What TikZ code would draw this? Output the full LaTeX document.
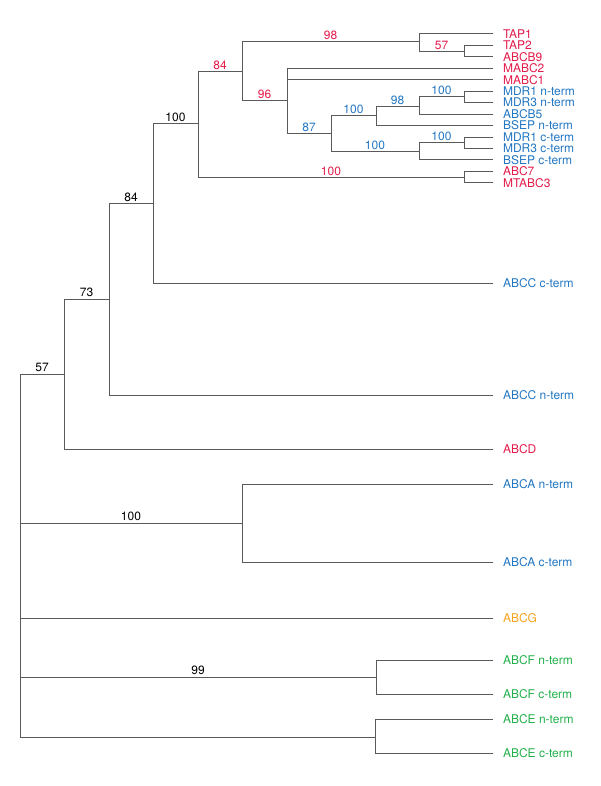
\documentclass[tikz,border=0pt]{standalone}
\usepackage{fontspec}
\setmainfont{TeX Gyre Heros}
\usetikzlibrary{positioning}

\definecolor{linegray}{HTML}{5A5A5A}
\definecolor{cladered}{HTML}{E31B4B}
\definecolor{cladeblue}{HTML}{2277C2}
\definecolor{cladeorange}{HTML}{F6A31C}
\definecolor{cladegreen}{HTML}{22B04B}

\tikzset{
  branch/.style={draw=linegray, line width=1pt},
  leaf/.style={anchor=west, inner xsep=10pt, inner ysep=0pt, outer sep=0pt,
    font=\fontsize{12}{13}\selectfont},
  boot/.style={above, pos=0.75, inner sep=1.5pt, font=\fontsize{12}{13}\selectfont},
}

\begin{document}
\begin{tikzpicture}[x=1pt, y=-1pt]
\useasboundingbox (0,0) rectangle (600,786);

% leaves of the ABCB clade
\foreach \nm/\txt/\col [count=\i from 0] in {tap1/TAP1/cladered, tap2/TAP2/cladered,
    abcb9/ABCB9/cladered, mabc2/MABC2/cladered, mabc1/MABC1/cladered,
    mdr1n/MDR1 n-term/cladeblue, mdr3n/MDR3 n-term/cladeblue, abcb5/ABCB5/cladeblue,
    bsepn/BSEP n-term/cladeblue, mdr1c/MDR1 c-term/cladeblue, mdr3c/MDR3 c-term/cladeblue,
    bsepc/BSEP c-term/cladeblue, abc7/ABC7/cladered, mtabc3/MTABC3/cladered}
  \node[leaf, text=\col] (\nm) at (493,{34+11.45*\i}) {\txt};

% other leaves
\node[leaf, text=cladeblue] (abccc) at (493,283) {ABCC c-term};
\node[leaf, text=cladeblue] (abccn) at (493,395) {ABCC n-term};
\node[leaf, text=cladered] (abcd) at (493,449) {ABCD};
\node[leaf, text=cladeblue] (abcan) at (493,484) {ABCA n-term};
\node[leaf, text=cladeblue] (abcac) at (493,562) {ABCA c-term};
\node[leaf, text=cladeorange] (abcg) at (493,618) {ABCG};
\node[leaf, text=cladegreen] (abcfn) at (493,660) {ABCF n-term};
\node[leaf, text=cladegreen] (abcfc) at (493,694) {ABCF c-term};
\node[leaf, text=cladegreen] (abcen) at (493,719) {ABCE n-term};
\node[leaf, text=cladegreen] (abcec) at (493,753) {ABCE c-term};

% internal nodes
\coordinate (root) at (20,556);
\coordinate (n57) at (64,374);
\coordinate (n73) at (109,299);
\coordinate (n84) at (153,204);
\coordinate (n100) at (198,124);
\coordinate (r84) at (242,72);
\coordinate (r98) at (419,42);
\coordinate (r57) at (464,51.5);
\coordinate (r96) at (287,101);
\coordinate (b87) at (331,134);
\coordinate (b100a) at (376,116);
\coordinate (b98) at (419,107);
\coordinate (b100b) at (464,97);
\coordinate (b100c) at (419,152);
\coordinate (b100d) at (464,143);
\coordinate (r100) at (464,177.5);
\coordinate (k100) at (242,523);
\coordinate (k99) at (376,677);
\coordinate (kE) at (375,737);

% branches
\draw[branch] (root) |- node[boot] {57} (n57);
\draw[branch] (root) |- node[boot] {100} (k100);
\draw[branch] (root) |- (abcg.west);
\draw[branch] (root) |- node[boot] {99} (k99);
\draw[branch] (root) |- (kE);
\draw[branch] (n57) |- node[boot] {73} (n73);
\draw[branch] (n57) |- (abcd.west);
\draw[branch] (n73) |- node[boot] {84} (n84);
\draw[branch] (n73) |- (abccn.west);
\draw[branch] (n84) |- node[boot] {100} (n100);
\draw[branch] (n84) |- (abccc.west);
\draw[branch] (n100) |- node[boot, text=cladered] {84} (r84);
\draw[branch] (n100) |- node[boot, text=cladered] {100} (r100);
\draw[branch] (r84) |- node[boot, text=cladered] {98} (r98);
\draw[branch] (r84) |- node[boot, text=cladered] {96} (r96);
\draw[branch] (r98) |- (tap1.west);
\draw[branch] (r98) |- node[boot, text=cladered] {57} (r57);
\draw[branch] (r57) |- (tap2.west);
\draw[branch] (r57) |- (abcb9.west);
\draw[branch] (r96) |- (mabc2.west);
\draw[branch] (r96) |- (mabc1.west);
\draw[branch] (r96) |- node[boot, text=cladeblue] {87} (b87);
\draw[branch] (b87) |- node[boot, text=cladeblue] {100} (b100a);
\draw[branch] (b87) |- node[boot, text=cladeblue] {100} (b100c);
\draw[branch] (b100a) |- node[boot, text=cladeblue] {98} (b98);
\draw[branch] (b100a) |- (bsepn.west);
\draw[branch] (b98) |- node[boot, text=cladeblue] {100} (b100b);
\draw[branch] (b98) |- (abcb5.west);
\draw[branch] (b100b) |- (mdr1n.west);
\draw[branch] (b100b) |- (mdr3n.west);
\draw[branch] (b100c) |- node[boot, text=cladeblue] {100} (b100d);
\draw[branch] (b100c) |- (bsepc.west);
\draw[branch] (b100d) |- (mdr1c.west);
\draw[branch] (b100d) |- (mdr3c.west);
\draw[branch] (r100) |- (abc7.west);
\draw[branch] (r100) |- (mtabc3.west);
\draw[branch] (k100) |- (abcan.west);
\draw[branch] (k100) |- (abcac.west);
\draw[branch] (k99) |- (abcfn.west);
\draw[branch] (k99) |- (abcfc.west);
\draw[branch] (kE) |- (abcen.west);
\draw[branch] (kE) |- (abcec.west);
\end{tikzpicture}
\end{document}
